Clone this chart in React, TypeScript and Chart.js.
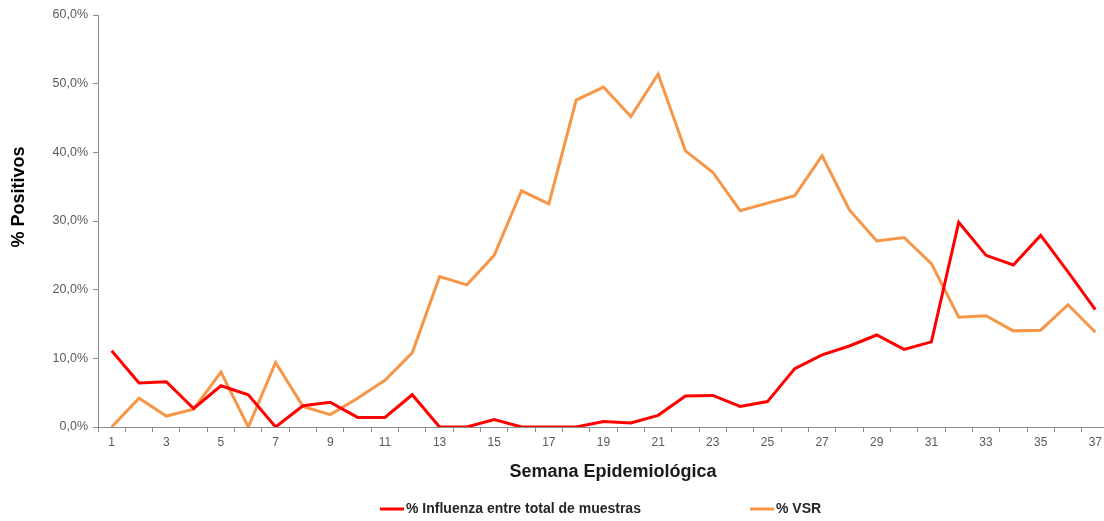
import React, { useEffect, useRef } from "react";
import { Chart, registerables } from "chart.js";

Chart.register(...registerables);

const weeks: string[] = [
  "1", "2", "3", "4", "5", "6", "7", "8", "9", "10",
  "11", "12", "13", "14", "15", "16", "17", "18", "19", "20",
  "21", "22", "23", "24", "25", "26", "27", "28", "29", "30",
  "31", "32", "33", "34", "35", "36", "37",
];

const influenza: number[] = [
  11.1, 6.4, 6.6, 2.7, 6.0, 4.7, 0.0, 3.1, 3.6, 1.4,
  1.4, 4.7, 0.0, 0.0, 1.1, 0.0, 0.0, 0.0, 0.8, 0.6,
  1.7, 4.5, 4.6, 3.0, 3.7, 8.5, 10.5, 11.8, 13.4, 11.3,
  12.4, 29.8, 25.0, 23.6, 27.9, 22.6, 17.1,
];

const vsr: number[] = [
  0.0, 4.2, 1.6, 2.6, 8.0, 0.0, 9.4, 3.0, 1.8, 4.2,
  6.8, 10.8, 21.9, 20.7, 25.0, 34.4, 32.5, 47.6, 49.5, 45.2,
  51.4, 40.2, 37.1, 31.5, 32.6, 33.7, 39.5, 31.6, 27.1, 27.6,
  23.8, 16.0, 16.2, 14.0, 14.1, 17.8, 13.8,
];

const seriesNames: string[] = ["% Influenza entre total de muestras", "% VSR"];
const seriesColors: string[] = ["#FF0000", "#F79646"];
const yTitle = "% Positivos";
const xTitle = "Semana Epidemiológica";

const FONT = "'Liberation Sans', Arial, sans-serif";

const overlayPlugin = {
  id: "overlayText",
  afterDraw(chart: any) {
    const ctx = chart.ctx;
    // y axis title
    ctx.save();
    ctx.translate(19, 197);
    ctx.rotate(-Math.PI / 2);
    ctx.font = `bold 18px ${FONT}`;
    ctx.fillStyle = "#000000";
    ctx.textAlign = "center";
    ctx.textBaseline = "middle";
    ctx.fillText(yTitle, 0, 0);
    ctx.restore();

    // x axis title
    ctx.save();
    ctx.font = `bold 18px ${FONT}`;
    ctx.fillStyle = "#1A1A1A";
    ctx.textAlign = "center";
    ctx.textBaseline = "middle";
    ctx.fillText(xTitle, 613, 472);
    ctx.restore();

    // legend
    const legendY = 509;
    const starts = [380, 750];
    ctx.save();
    ctx.font = `bold 14px ${FONT}`;
    ctx.textBaseline = "middle";
    ctx.textAlign = "left";
    chart.data.datasets.forEach((ds: any, i: number) => {
      const x0 = starts[i];
      ctx.strokeStyle = ds.borderColor;
      ctx.lineWidth = 3;
      ctx.beginPath();
      ctx.moveTo(x0, legendY);
      ctx.lineTo(x0 + 24, legendY);
      ctx.stroke();
      ctx.fillStyle = "#262626";
      ctx.fillText(ds.label, x0 + 26, legendY);
    });
    ctx.restore();
  },
};

export default function App() {
  const canvasRef = useRef<HTMLCanvasElement | null>(null);

  useEffect(() => {
    if (!canvasRef.current) return;
    const chart = new Chart(canvasRef.current, {
      type: "line",
      data: {
        labels: weeks,
        datasets: [
          {
            label: seriesNames[0],
            data: influenza,
            borderColor: seriesColors[0],
            backgroundColor: seriesColors[0],
            borderWidth: 3,
            pointRadius: 0,
            tension: 0,
            fill: false,
          },
          {
            label: seriesNames[1],
            data: vsr,
            borderColor: seriesColors[1],
            backgroundColor: seriesColors[1],
            borderWidth: 3,
            pointRadius: 0,
            tension: 0,
            fill: false,
          },
        ],
      },
      options: {
        responsive: false,
        animation: false,
        devicePixelRatio: 1,
        layout: { padding: { left: 0, top: 15, right: 11, bottom: 0 } },
        plugins: {
          legend: { display: false },
          tooltip: { enabled: false },
          title: { display: false },
        },
        scales: {
          x: {
            type: "category",
            offset: true,
            afterFit: (scale: any) => {
              scale.height = 94;
            },
            grid: {
              offset: true,
              drawOnChartArea: false,
              drawTicks: true,
              tickLength: 5,
              color: "#8C8C8C",
            },
            border: { display: true, color: "#8C8C8C", width: 1 },
            ticks: {
              autoSkip: false,
              maxRotation: 0,
              minRotation: 0,
              padding: 3,
              color: "#595959",
              font: { family: FONT, size: 12 },
              callback: (_v: any, i: number) => (i % 2 === 0 ? weeks[i] : ""),
            },
          },
          y: {
            min: 0,
            max: 60,
            afterFit: (scale: any) => {
              scale.width = 98;
            },
            grid: {
              drawOnChartArea: false,
              drawTicks: true,
              tickLength: 5,
              color: "#8C8C8C",
            },
            border: { display: true, color: "#8C8C8C", width: 1 },
            ticks: {
              stepSize: 10,
              padding: 5,
              color: "#595959",
              font: { family: FONT, size: 12.5 },
              callback: (v: any) => `${Number(v).toFixed(1).replace(".", ",")}%`,
            },
          },
        },
      },
      plugins: [overlayPlugin],
    });
    return () => chart.destroy();
  }, []);

  return (
    <div
      style={{
        position: "fixed",
        left: 0,
        top: 0,
        width: 1104,
        height: 521,
        overflow: "hidden",
        background: "#ffffff",
      }}
    >
      <canvas ref={canvasRef} width={1120} height={521} style={{ display: "block" }} />
    </div>
  );
}
